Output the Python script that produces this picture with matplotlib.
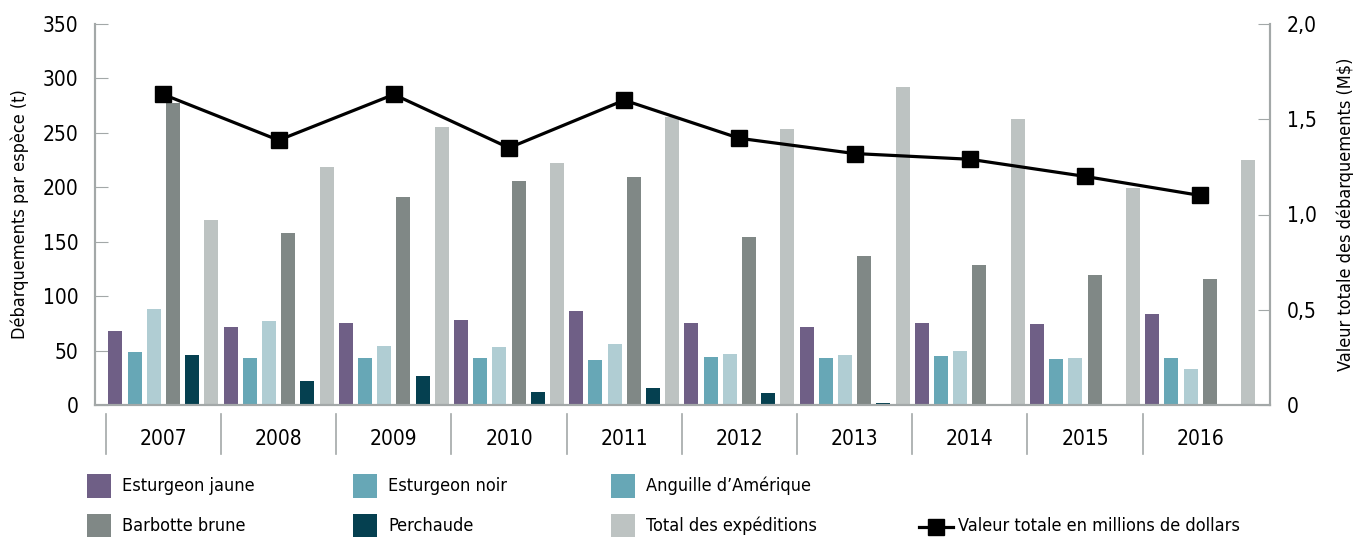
import matplotlib
matplotlib.use('Agg')
from matplotlib import pyplot as plt
from matplotlib.patches import Rectangle
from matplotlib.lines import Line2D
import numpy as np

plt.rcParams['font.family'] = ['Liberation Sans Narrow', 'DejaVu Sans']
plt.rcParams['font.stretch'] = 'condensed'

# data
years = ['2007', '2008', '2009', '2010', '2011', '2012', '2013', '2014', '2015', '2016']
esturgeon_jaune = [68, 72, 75, 78, 86, 75, 72, 75, 74, 84]
esturgeon_noir = [49, 43, 43, 43, 41, 44, 43, 45, 42, 43]
anguille = [88, 77, 54, 53, 56, 47, 46, 50, 43, 33]
barbotte = [277, 158, 191, 206, 209, 154, 137, 129, 119, 116]
perchaude = [46, 22, 27, 12, 16, 11, 2, 0, 0, 0]
total_exp = [170, 219, 255, 222, 265, 254, 292, 263, 199, 225]
valeur_totale = [1.63, 1.39, 1.63, 1.35, 1.60, 1.40, 1.32, 1.29, 1.20, 1.10]

series = [esturgeon_jaune, esturgeon_noir, anguille, barbotte, perchaude, total_exp]
bar_colors = ['#6f5f86', '#67a7b6', '#b0cdd3', '#808886', '#054050', '#bdc3c2']
legend_names = ['Esturgeon jaune', 'Esturgeon noir', 'Anguille d\u2019Am\u00e9rique',
                'Barbotte brune', 'Perchaude', 'Total des exp\u00e9ditions']
# legend swatch for the eel is drawn in the same teal as in the source
legend_colors = ['#6f5f86', '#67a7b6', '#67a7b6', '#808886', '#054050', '#bdc3c2']
axis_gray = '#a3a8a8'

fig = plt.figure(figsize=(13.53, 5.37), dpi=100)
ax = fig.add_axes([95 / 1353, 1 - 405 / 537, (1270 - 95) / 1353, 381 / 537])
ax2 = ax.twinx()

x = np.arange(len(years))
nb = len(series)
for j, (vals, col) in enumerate(zip(series, bar_colors)):
    ax.bar(x + (j + 0.5) / nb, vals, width=0.73 / nb, color=col, zorder=2)

ax.set_xlim(-0.094, 10.106)
ax.set_ylim(0, 350)
ax.set_yticks(range(0, 351, 50))
ax.set_xticks(x + 0.5)
ax.set_xticklabels(years, fontsize=15)
ax.tick_params(axis='x', length=0, pad=17)
ax.tick_params(axis='y', direction='in', length=9, color=axis_gray, labelsize=15, pad=12)

# category separators under the axis
for i in range(len(years)):
    ax.plot([i, i], [-0.024, -0.129], color=axis_gray, lw=1.2,
            transform=ax.get_xaxis_transform(), clip_on=False)

ax.set_ylabel('D\u00e9barquements par esp\u00e8ce (t)', fontsize=13, labelpad=10)

ax2.plot(x + 0.5, valeur_totale, color='black', lw=2.3, marker='s', markersize=11, zorder=5)
ax2.set_ylim(0, 2.0)
ax2.set_yticks([0, 0.5, 1.0, 1.5, 2.0])
ax2.set_yticklabels(['0', '0,5', '1,0', '1,5', '2,0'])
ax2.tick_params(axis='y', direction='in', length=9, color=axis_gray, labelsize=15, pad=12)
ax2.set_ylabel('Valeur totale des d\u00e9barquements (M$)', fontsize=13, labelpad=14)

for a in (ax, ax2):
    a.spines['top'].set_visible(False)
    for s in ('left', 'right', 'bottom'):
        a.spines[s].set_color(axis_gray)
        a.spines[s].set_linewidth(1.5)

# legend, laid out by hand like the source
col_x = [87, 353, 611]
row_y = [486, 526]
for k, (name, col) in enumerate(zip(legend_names, legend_colors)):
    r, c = divmod(k, 3)
    px, py = col_x[c], row_y[r]
    fig.patches.append(Rectangle((px / 1353, 1 - (py + 12) / 537), 24 / 1353, 24 / 537,
                                 transform=fig.transFigure, facecolor=col, edgecolor='none'))
    fig.text((px + 35) / 1353, 1 - py / 537, name, fontsize=13, va='center', ha='left')

fig.add_artist(Line2D([919 / 1353, 953 / 1353], [1 - 527 / 537, 1 - 527 / 537],
                      color='black', lw=2.3, transform=fig.transFigure))
fig.add_artist(Line2D([936 / 1353], [1 - 527 / 537], color='black', marker='s',
                      markersize=12, transform=fig.transFigure))
fig.text(958 / 1353, 1 - 526 / 537, 'Valeur totale en millions de dollars',
         fontsize=13, va='center', ha='left')

fig.savefig('out.png', dpi=100)
